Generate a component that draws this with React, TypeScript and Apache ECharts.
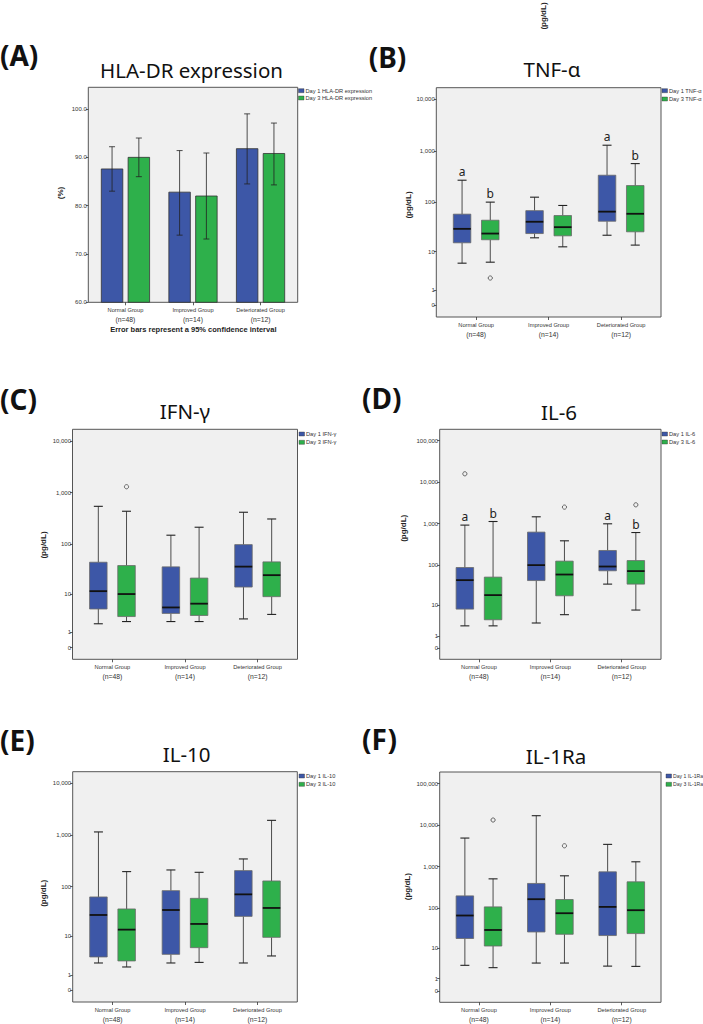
import React, { useEffect, useRef } from "react";
import * as echarts from "echarts";

// ---------- data ----------
const categories = ["Normal Group", "Improved Group", "Deteriorated Group"];
const groupSizes = [48, 14, 12];

// Panel A: HLA-DR expression (%), mean with 95% CI
const hlaDay1Mean = [87.6, 82.8, 91.8];
const hlaDay1Lower = [83.0, 73.9, 84.5];
const hlaDay1Upper = [92.2, 91.4, 99.0];
const hlaDay3Mean = [90.0, 82.0, 90.8];
const hlaDay3Lower = [86.0, 73.1, 84.3];
const hlaDay3Upper = [94.0, 90.9, 97.1];
const hlaTicks = [60, 70, 80, 90, 100];

// Box plots (pg/dL): [lower whisker, Q1, median, Q3, upper whisker]
const tnfDay1 = [[5.6, 15.4, 29.6, 58, 268], [19.5, 23.8, 41, 68, 125], [22, 42, 65, 335, 1284]];
const tnfDay3 = [[5.9, 17.8, 23.8, 44, 100], [12.7, 21.4, 32, 54.5, 86], [13.8, 25.8, 59, 211, 564]];
const tnfDay1Outliers = [[], [], []];
const tnfDay3Outliers = [[2.4], [], []];
const tnfDay1Marks = ["a", "", "a"];
const tnfDay3Marks = ["b", "", "b"];

const ifnDay1 = [[1.9, 4.6, 11.4, 44, 542], [2.2, 3.6, 5.0, 35.6, 149], [2.6, 13.9, 36, 97.6, 416]];
const ifnDay3 = [[2.2, 3.0, 9.9, 37.8, 435], [2.2, 3.2, 6.1, 21.2, 213], [3.4, 8.7, 24.3, 44.7, 308]];
const ifnDay1Outliers = [[], [], []];
const ifnDay3Outliers = [[1299], [], []];
const ifnDay1Marks = ["", "", ""];
const ifnDay3Marks = ["", "", ""];

const il6Day1 = [[2.5, 7.85, 43, 87.5, 925], [3.1, 42, 100, 627, 1465], [34.3, 72.8, 92.5, 226, 994]];
const il6Day3 = [[2.5, 3.9, 18.2, 51, 1129], [5.5, 17.5, 59, 125, 387], [7.4, 34.3, 71.6, 129, 613]];
const il6Day1Outliers = [[15850], [], []];
const il6Day3Outliers = [[], [2506], [2845]];
const il6Day1Marks = ["a", "", "a"];
const il6Day3Marks = ["b", "", "b"];

const il10Day1 = [[2.38, 3.42, 27.6, 62.8, 1150], [2.38, 3.96, 34.7, 83.5, 211], [2.38, 25.9, 70.6, 205, 345]];
const il10Day3 = [[1.83, 2.7, 13.9, 36.4, 196], [2.47, 5.68, 18.2, 59, 190], [3.62, 9.57, 38.1, 129, 1927]];
const il10Day1Outliers = [[], [], []];
const il10Day3Outliers = [[], [], []];
const il10Day1Marks = ["", "", ""];
const il10Day3Marks = ["", "", ""];

const il1raDay1 = [[3.18, 17.5, 65.3, 196, 4875], [3.74, 25.6, 163, 392, 16860], [3.0, 20.8, 106, 747, 3436]];
const il1raDay3 = [[2.67, 11.2, 28.7, 106, 506], [3.74, 22.4, 74.3, 160, 599], [2.94, 23.3, 88, 429, 1305]];
const il1raDay1Outliers = [[], [], []];
const il1raDay3Outliers = [[13270], [3177], []];
const il1raDay1Marks = ["", "", ""];
const il1raDay3Marks = ["", "", ""];

const logTicks4 = [0, 1, 10, 100, 1000, 10000];
const logTicks5 = [0, 1, 10, 100, 1000, 10000, 100000];

// ---------- styling / layout ----------
const BLUE = "#3D57A7";
const GREEN = "#2EB04B";
const BG = "#F0F0F0";
const FRAME = "#555555";
const SANS = "Liberation Sans, Arial, sans-serif";
const TITLE_FONT = "Noto Sans, sans-serif";

const tf = (v: number) => Math.log10(v + 1);
const fmtCount = (v: number) => {
  const n = Math.round(Math.pow(10, v) - 1);
  return String(n).replace(/\B(?=(\d{3})+(?!\d))/g, ",");
};
const catPositions = categories.map((_, i) => i);

const boxPanels = [
  { title: "TNF-α", label: "(B)", day1: tnfDay1, day3: tnfDay3, out1: tnfDay1Outliers, out3: tnfDay3Outliers, marks1: tnfDay1Marks, marks3: tnfDay3Marks, ticks: logTicks4,
    grid: { left: 436.3, top: 87.7, width: 224.7, height: 229.3 }, yMin: -0.225, yMax: 4.225,
    titlePos: [552, 69], labelPos: [368.7, 57], namePos: [408.7, 205], legendPos: [662, 90.7, 99], legendFont: 5.7 },
  { title: "IFN-γ", label: "(C)", day1: ifnDay1, day3: ifnDay3, out1: ifnDay1Outliers, out3: ifnDay3Outliers, marks1: ifnDay1Marks, marks3: ifnDay3Marks, ticks: logTicks4,
    grid: { left: 72.5, top: 429.3, width: 225, height: 230 }, yMin: -0.225, yMax: 4.225,
    titlePos: [185, 411], labelPos: [0, 398.5], namePos: [43.3, 545], legendPos: [299, 434, 442.3], legendFont: 5.7 },
  { title: "IL-6", label: "(D)", day1: il6Day1, day3: il6Day3, out1: il6Day1Outliers, out3: il6Day3Outliers, marks1: il6Day1Marks, marks3: il6Day3Marks, ticks: logTicks5,
    grid: { left: 439.7, top: 429.3, width: 221.3, height: 230 }, yMin: -0.26, yMax: 5.27,
    titlePos: [559, 412.3], labelPos: [362, 398], namePos: [403.7, 528.3], legendPos: [662, 434, 442], legendFont: 5.7 },
  { title: "IL-10", label: "(E)", day1: il10Day1, day3: il10Day3, out1: il10Day1Outliers, out3: il10Day3Outliers, marks1: il10Day1Marks, marks3: il10Day3Marks, ticks: logTicks4,
    grid: { left: 72.7, top: 771.7, width: 224.6, height: 230.3 }, yMin: -0.225, yMax: 4.225,
    titlePos: [186.7, 754.3], labelPos: [0, 740], namePos: [43.3, 893.3], legendPos: [299, 776, 784.3], legendFont: 5.7 },
  { title: "IL-1Ra", label: "(F)", day1: il1raDay1, day3: il1raDay3, out1: il1raDay1Outliers, out3: il1raDay3Outliers, marks1: il1raDay1Marks, marks3: il1raDay3Marks, ticks: logTicks5,
    grid: { left: 439.7, top: 772, width: 221.3, height: 230.3 }, yMin: -0.27, yMax: 5.28,
    titlePos: [556, 755.7], labelPos: [362, 738.5], namePos: [407, 886.7], legendPos: [666, 776, 784.3], legendFont: 5.1 },
];

const BOX_OFF = 14.1;
const BOX_W = 17.5;
const CAP_W = 9;
const LABEL_COLOR = "#333333";

const xAxisFor = (gridIndex: number) => ({
  type: "value",
  gridIndex,
  min: -0.55,
  max: 2.55,
  axisLine: { show: false, onZero: false },
  splitLine: { show: false },
  axisTick: { show: true, customValues: catPositions, length: 3, lineStyle: { color: "#333", width: 0.8 } },
  axisLabel: {
    customValues: catPositions,
    margin: 3.5,
    color: LABEL_COLOR,
    fontFamily: SANS,
    formatter: (v: number) => {
      const i = Math.round(v);
      return `{cat|${categories[i]}}\n{num|(n=${groupSizes[i]})}`;
    },
    rich: {
      cat: { fontSize: 5.7, lineHeight: 9, color: LABEL_COLOR, fontFamily: SANS },
      num: { fontSize: 6.8, lineHeight: 10, color: LABEL_COLOR, fontFamily: SANS },
    },
  },
});

const boxRender = (side: number, color: string, marks: string[]) => (params: any, api: any) => {
  const x = api.value(0);
  const pLow = api.coord([x, api.value(1)]);
  const yQ1 = api.coord([x, api.value(2)])[1];
  const yMed = api.coord([x, api.value(3)])[1];
  const yQ3 = api.coord([x, api.value(4)])[1];
  const yHigh = api.coord([x, api.value(5)])[1];
  const yLow = pLow[1];
  const cx = pLow[0] + side * BOX_OFF;
  const wl = { stroke: "#3a3a3a", lineWidth: 0.9 };
  const children: any[] = [
    { type: "line", shape: { x1: cx, y1: yHigh, x2: cx, y2: yQ3 }, style: wl },
    { type: "line", shape: { x1: cx, y1: yQ1, x2: cx, y2: yLow }, style: wl },
    { type: "line", shape: { x1: cx - CAP_W / 2, y1: yHigh, x2: cx + CAP_W / 2, y2: yHigh }, style: { stroke: "#222", lineWidth: 1.1 } },
    { type: "line", shape: { x1: cx - CAP_W / 2, y1: yLow, x2: cx + CAP_W / 2, y2: yLow }, style: { stroke: "#222", lineWidth: 1.1 } },
    { type: "rect", shape: { x: cx - BOX_W / 2, y: yQ3, width: BOX_W, height: yQ1 - yQ3 }, style: { fill: color, stroke: "#6a6a6a", lineWidth: 0.8 } },
    { type: "line", shape: { x1: cx - BOX_W / 2, y1: yMed, x2: cx + BOX_W / 2, y2: yMed }, style: { stroke: "#111", lineWidth: 1.8 } },
  ];
  const m = marks[params.dataIndex];
  if (m) {
    children.push({
      type: "text",
      x: cx,
      y: yHigh - 8.5,
      style: { text: m, fontSize: 12, fontFamily: TITLE_FONT, fill: "#222222", align: "center", verticalAlign: "middle" },
    });
  }
  return { type: "group", children };
};

const outlierRender = (side: number) => (params: any, api: any) => {
  const p = api.coord([api.value(0), api.value(1)]);
  return { type: "circle", shape: { cx: p[0] + side * BOX_OFF, cy: p[1], r: 2.1 }, style: { fill: "none", stroke: "#444", lineWidth: 0.8 } };
};

const barRender = (side: number, color: string) => (params: any, api: any) => {
  const x = api.value(0);
  const top = api.coord([x, api.value(1)]);
  const base = api.coord([x, hlaTicks[0]])[1];
  const lo = api.coord([x, api.value(2)])[1];
  const hi = api.coord([x, api.value(3)])[1];
  const cx = top[0] + side * 13.4;
  const s = { stroke: "#222", lineWidth: 0.8 };
  return {
    type: "group",
    children: [
      { type: "rect", shape: { x: cx - 10.75, y: top[1], width: 21.5, height: base - top[1] }, style: { fill: color, stroke: "#333", lineWidth: 0.8 } },
      { type: "line", shape: { x1: cx, y1: hi, x2: cx, y2: lo }, style: s },
      { type: "line", shape: { x1: cx - 3, y1: hi, x2: cx + 3, y2: hi }, style: s },
      { type: "line", shape: { x1: cx - 3, y1: lo, x2: cx + 3, y2: lo }, style: s },
    ],
  };
};

const legendItems = (x: number, y1: number, y2: number, t1: string, t3: string, fs = 5.7) => [
  { type: "rect", shape: { x, y: y1 - 2, width: 5.5, height: 4 }, style: { fill: BLUE, stroke: "#333", lineWidth: 0.4 } },
  { type: "text", x: x + 7, y: y1, style: { text: t1, fontSize: fs, fontFamily: SANS, fill: "#333", verticalAlign: "middle" } },
  { type: "rect", shape: { x, y: y2 - 2, width: 5.5, height: 4 }, style: { fill: GREEN, stroke: "#333", lineWidth: 0.4 } },
  { type: "text", x: x + 7, y: y2, style: { text: t3, fontSize: fs, fontFamily: SANS, fill: "#333", verticalAlign: "middle" } },
];

const titleText = (text: string, x: number, y: number) => ({
  type: "text", x, y, style: { text, fontSize: 20.5, fontFamily: TITLE_FONT, fill: "#111", align: "center", verticalAlign: "middle" },
});
const panelLabel = (text: string, x: number, y: number) => ({
  type: "text", x, y, style: { text, fontSize: 28, fontWeight: "bold", fontFamily: TITLE_FONT, fill: "#111", align: "left", verticalAlign: "middle" },
});
const axisName = (text: string, x: number, y: number) => ({
  type: "text", x, y, rotation: Math.PI / 2,
  style: { text, fontSize: 8, fontWeight: "bold", fontFamily: SANS, fill: "#222", align: "center", verticalAlign: "middle" },
});

function buildOption() {
  const grids: any[] = [{ left: 88.3, top: 87.3, width: 209.4, height: 215 }];
  const xAxes: any[] = [xAxisFor(0)];
  const yAxes: any[] = [
    {
      type: "value", gridIndex: 0, min: hlaTicks[0], max: 104.5,
      axisLine: { show: false, onZero: false }, splitLine: { show: false },
      axisTick: { show: true, customValues: hlaTicks, length: 2.5, lineStyle: { color: "#333", width: 0.8 } },
      axisLabel: { customValues: hlaTicks, formatter: (v: number) => v.toFixed(1), fontSize: 6, color: LABEL_COLOR, fontFamily: SANS, margin: 1.5 },
    },
  ];
  const series: any[] = [
    {
      type: "custom", name: "Day 1 HLA-DR expression", xAxisIndex: 0, yAxisIndex: 0,
      data: catPositions.map((i) => [i, hlaDay1Mean[i], hlaDay1Lower[i], hlaDay1Upper[i]]),
      renderItem: barRender(-1, BLUE),
    },
    {
      type: "custom", name: "Day 3 HLA-DR expression", xAxisIndex: 0, yAxisIndex: 0,
      data: catPositions.map((i) => [i, hlaDay3Mean[i], hlaDay3Lower[i], hlaDay3Upper[i]]),
      renderItem: barRender(1, GREEN),
    },
  ];
  const graphic: any[] = [
    panelLabel("(A)", 0, 55),
    titleText("HLA-DR expression", 191.5, 70),
    axisName("(%)", 60, 193),
    ...legendItems(298.5, 90.7, 98, "Day 1 HLA-DR expression", "Day 3 HLA-DR expression"),
    {
      type: "text", x: 193.3, y: 329.3,
      style: { text: "Error bars represent a 95% confidence interval", fontSize: 7.5, fontWeight: "bold", fontFamily: SANS, fill: "#222", align: "center", verticalAlign: "middle" },
    },
    axisName("(pg/dL)", 543.7, 16),
  ];

  boxPanels.forEach((p, k) => {
    const g = k + 1;
    grids.push(p.grid);
    xAxes.push(xAxisFor(g));
    const tv = p.ticks.map(tf);
    yAxes.push({
      type: "value", gridIndex: g, min: p.yMin, max: p.yMax,
      axisLine: { show: false, onZero: false }, splitLine: { show: false },
      axisTick: { show: true, customValues: tv, length: 2.5, lineStyle: { color: "#333", width: 0.8 } },
      axisLabel: { customValues: tv, formatter: fmtCount, fontSize: 6, color: LABEL_COLOR, fontFamily: SANS, margin: 1.5 },
    });
    const mk = (arr: number[][]) => arr.map((b, i) => [i, ...b.map(tf)]);
    const mo = (arr: number[][]) => {
      const out: number[][] = [];
      arr.forEach((vals, i) => vals.forEach((v) => out.push([i, tf(v)])));
      return out;
    };
    series.push(
      { type: "custom", name: `Day 1 ${p.title}`, xAxisIndex: g, yAxisIndex: g, data: mk(p.day1), renderItem: boxRender(-1, BLUE, p.marks1) },
      { type: "custom", name: `Day 3 ${p.title}`, xAxisIndex: g, yAxisIndex: g, data: mk(p.day3), renderItem: boxRender(1, GREEN, p.marks3) },
      { type: "custom", name: `Day 1 ${p.title} outliers`, xAxisIndex: g, yAxisIndex: g, data: mo(p.out1), renderItem: outlierRender(-1) },
      { type: "custom", name: `Day 3 ${p.title} outliers`, xAxisIndex: g, yAxisIndex: g, data: mo(p.out3), renderItem: outlierRender(1) },
    );
    graphic.push(
      panelLabel(p.label, p.labelPos[0], p.labelPos[1]),
      titleText(p.title, p.titlePos[0], p.titlePos[1]),
      axisName("(pg/dL)", p.namePos[0], p.namePos[1]),
      ...legendItems(p.legendPos[0], p.legendPos[1], p.legendPos[2], `Day 1 ${p.title}`, `Day 3 ${p.title}`, p.legendFont),
    );
  });

  grids.forEach((g) => {
    g.show = true;
    g.backgroundColor = BG;
    g.borderColor = FRAME;
    g.borderWidth = 1;
    g.containLabel = false;
  });

  return {
    animation: false,
    backgroundColor: "#ffffff",
    grid: grids,
    xAxis: xAxes,
    yAxis: yAxes,
    series,
    graphic,
  };
}

export default function App() {
  const ref = useRef<HTMLDivElement>(null);
  useEffect(() => {
    if (!ref.current) return;
    const chart = echarts.init(ref.current, undefined, { renderer: "svg" });
    chart.setOption(buildOption() as any);
    return () => chart.dispose();
  }, []);
  return <div ref={ref} style={{ position: "absolute", left: 0, top: 0, width: 703, height: 1024, background: "#fff" }} />;
}
